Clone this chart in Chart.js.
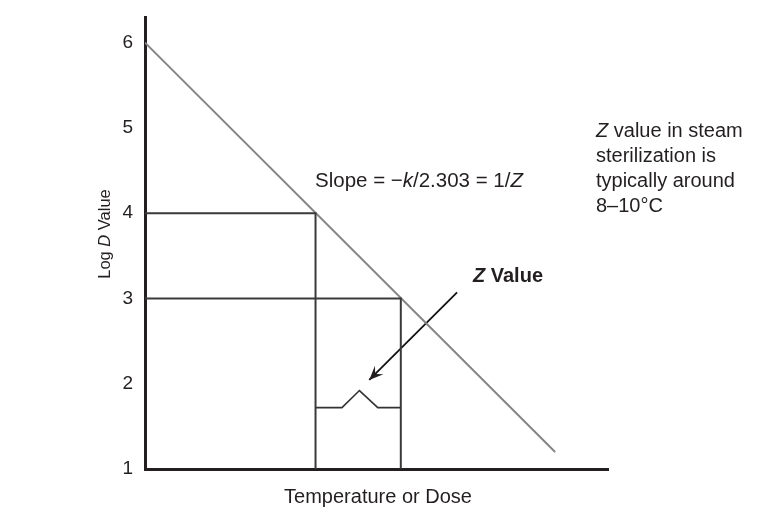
<!DOCTYPE html>
<html>
<head>
<meta charset="utf-8">
<script src="https://cdn.jsdelivr.net/npm/chart.js@4"></script>
<style>
  html, body { margin: 0; padding: 0; background: #fff; }
</style>
</head>
<body>
<canvas id="zchart" width="768" height="520"></canvas>
<script>
  // tick labels on the log D axis
  var yTicks = [1, 2, 3, 4, 5, 6];

  // survivor curve (log D vs temperature)
  var slopeX = [0, 4.81];
  var slopeY = [6, 1.2];

  // drop lines from log D = 4 and log D = 3
  var d4X = [0, 2, 2];
  var d4Y = [4, 4, 1];
  var d3X = [0, 3, 3];
  var d3Y = [3, 3, 1];

  // Z value bracket
  var bracketX = [2, 2.31, 2.515, 2.73, 3];
  var bracketY = [1.72, 1.72, 1.92, 1.72, 1.72];

  // arrow from the "Z Value" label to the bracket
  var arrowX = [3.66, 2.63];
  var arrowY = [3.07, 2.045];

  var FONT = '"Liberation Sans", Arial, Helvetica, sans-serif';
  var INK = '#231f20';

  function pts(xs, ys) {
    return xs.map(function (x, i) { return { x: x, y: ys[i] }; });
  }

  function lineSet(xs, ys, color, width) {
    return {
      data: pts(xs, ys),
      showLine: true,
      borderColor: color,
      borderWidth: width,
      pointRadius: 0,
      fill: false,
      tension: 0
    };
  }

  // draws text made of parts with their own style (italic / bold)
  function drawRich(ctx, parts, x, y, size, align) {
    var total = 0;
    parts.forEach(function (p) {
      ctx.font = (p[1] || '') + ' ' + size + 'px ' + FONT;
      total += ctx.measureText(p[0]).width;
    });
    var cx = x;
    if (align === 'center') cx = x - total / 2;
    ctx.textAlign = 'left';
    parts.forEach(function (p) {
      ctx.font = (p[1] || '') + ' ' + size + 'px ' + FONT;
      ctx.fillText(p[0], cx, y);
      cx += ctx.measureText(p[0]).width;
    });
  }

  var labelsPlugin = {
    id: 'labels',
    afterDraw: function (chart) {
      var ctx = chart.ctx;
      var xs = chart.scales.x, ys = chart.scales.y;
      ctx.save();
      ctx.fillStyle = INK;
      ctx.textBaseline = 'alphabetic';

      // arrow head
      var tx = xs.getPixelForValue(arrowX[1]), ty = ys.getPixelForValue(arrowY[1]);
      var sx = xs.getPixelForValue(arrowX[0]), sy = ys.getPixelForValue(arrowY[0]);
      var ang = Math.atan2(ty - sy, tx - sx);
      var len = 14, wid = 6;
      ctx.beginPath();
      ctx.moveTo(tx, ty);
      ctx.lineTo(tx - len * Math.cos(ang) + wid * Math.sin(ang), ty - len * Math.sin(ang) - wid * Math.cos(ang));
      ctx.lineTo(tx - 0.6 * len * Math.cos(ang), ty - 0.6 * len * Math.sin(ang));
      ctx.lineTo(tx - len * Math.cos(ang) - wid * Math.sin(ang), ty - len * Math.sin(ang) + wid * Math.cos(ang));
      ctx.closePath();
      ctx.fill();

      // annotations
      drawRich(ctx, [['Slope = \u2212'], ['k', 'italic'], ['/2.303 = 1/'], ['Z', 'italic']], 315, 187, 20.5, 'left');
      drawRich(ctx, [['Z', 'italic bold'], [' Value', 'bold']], 508, 282, 20, 'center');

      drawRich(ctx, [['Z', 'italic'], [' value in steam']], 596, 137, 20, 'left');
      drawRich(ctx, [['sterilization is']], 596, 162, 20, 'left');
      drawRich(ctx, [['typically around']], 596, 187, 20, 'left');
      drawRich(ctx, [['8\u201310\u00b0C']], 596, 212, 20, 'left');

      // axis titles
      drawRich(ctx, [['Temperature or Dose']], 378, 503, 20, 'center');
      ctx.translate(110, 234);
      ctx.rotate(-Math.PI / 2);
      drawRich(ctx, [['Log '], ['D', 'italic'], [' Value']], 0, 0, 16.5, 'center');
      ctx.restore();
    }
  };

  var ctx = document.getElementById('zchart').getContext('2d');

  var myChart = new Chart(ctx, {
    type: 'scatter',
    data: {
      datasets: [
        lineSet(d4X, d4Y, '#3a3a3a', 2),
        lineSet(d3X, d3Y, '#3a3a3a', 2),
        lineSet(bracketX, bracketY, '#333333', 1.6),
        lineSet(slopeX, slopeY, '#858585', 2),
        lineSet(arrowX, arrowY, '#111111', 1.8)
      ]
    },
    options: {
      responsive: false,
      animation: false,
      events: [],
      layout: { padding: { top: 17, right: 160, bottom: 0, left: 0 } },
      plugins: { legend: { display: false }, tooltip: { enabled: false } },
      scales: {
        x: {
          type: 'linear',
          min: 0,
          max: 5.43,
          grid: { display: false, drawTicks: false },
          border: { display: true, color: INK, width: 3 },
          ticks: { display: false },
          afterFit: function (s) { s.height = 51; s.paddingLeft = 0; s.paddingRight = 0; }
        },
        y: {
          type: 'linear',
          min: 1,
          max: 6.3,
          grid: { display: false, drawTicks: false },
          border: { display: true, color: INK, width: 3 },
          ticks: {
            color: INK,
            padding: 12,
            font: { family: FONT, size: 19 }
          },
          afterBuildTicks: function (s) {
            s.ticks = yTicks.map(function (v) { return { value: v }; });
          },
          afterFit: function (s) { s.width = 145; s.paddingTop = 0; s.paddingBottom = 0; }
        }
      }
    },
    plugins: [labelsPlugin]
  });
</script>
</body>
</html>
